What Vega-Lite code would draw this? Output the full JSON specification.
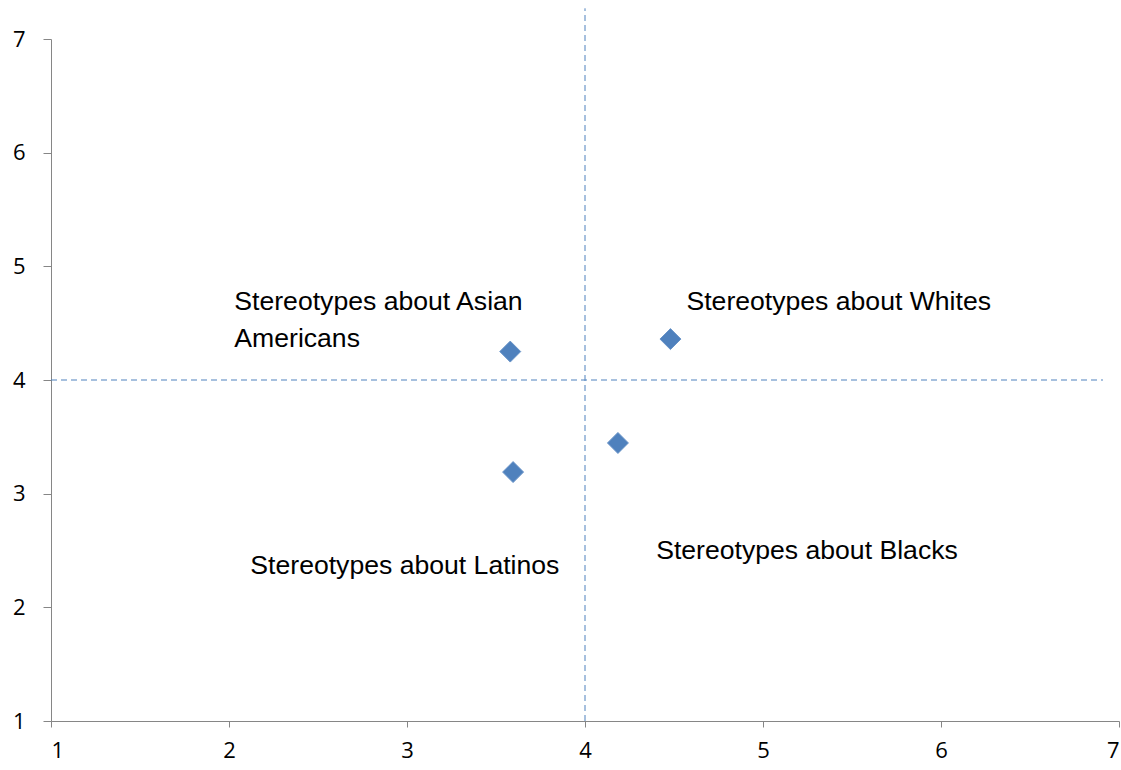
{
  "$schema": "https://vega.github.io/schema/vega-lite/v6.json",
  "width": 1068,
  "height": 682,
  "autosize": "none",
  "padding": {"left": 51, "top": 39, "right": 2, "bottom": 49},
  "background": "white",
  "config": {
    "view": {"stroke": null},
    "font": "Liberation Sans",
    "axis": {"grid": false, "domainColor": "#868686", "tickColor": "#868686", "labelColor": "#000000", "labelFontSize": 22, "labelFont": "Open Sans", "title": null}
  },
  "datasets": {
    "points": [
      {"group": "Asian Americans", "x": 3.58, "y": 4.25},
      {"group": "Whites", "x": 4.48, "y": 4.36},
      {"group": "Blacks", "x": 4.185, "y": 3.446},
      {"group": "Latinos", "x": 3.596, "y": 3.19}
    ],
    "labels": [
      {"text": ["Stereotypes about Asian", "Americans"], "x": 2.03, "y": 4.80},
      {"text": ["Stereotypes about Whites"], "x": 4.57, "y": 4.80},
      {"text": ["Stereotypes about Latinos"], "x": 2.12, "y": 2.475},
      {"text": ["Stereotypes about Blacks"], "x": 4.40, "y": 2.61}
    ],
    "vline": [{"x": 4, "y": 1, "y2": 7.27}],
    "hline": [{"y": 4, "x": 1, "x2": 6.91}]
  },
  "layer": [
    {
      "data": {"name": "vline"},
      "mark": {"type": "rule", "color": "#4F81BD", "strokeWidth": 1, "strokeDash": [6, 4], "clip": false},
      "encoding": {
        "x": {"field": "x", "type": "quantitative", "scale": {"domain": [1, 7], "nice": false}, "axis": {"values": [1, 2, 3, 4, 5, 6, 7], "tickSize": 6, "labelPadding": 13, "format": "d"}},
        "y": {"field": "y", "type": "quantitative", "scale": {"domain": [1, 7], "nice": false}, "axis": {"values": [1, 2, 3, 4, 5, 6, 7], "tickSize": 8, "labelPadding": 18, "format": "d"}},
        "y2": {"field": "y2"}
      }
    },
    {
      "data": {"name": "hline"},
      "mark": {"type": "rule", "color": "#4F81BD", "strokeWidth": 1, "strokeDash": [6, 4], "clip": false},
      "encoding": {
        "x": {"field": "x", "type": "quantitative"},
        "x2": {"field": "x2"},
        "y": {"field": "y", "type": "quantitative"}
      }
    },
    {
      "data": {"name": "points"},
      "mark": {"type": "point", "shape": "diamond", "filled": true, "size": 440, "color": "#4F81BD", "opacity": 1, "stroke": "#6a94c8", "strokeWidth": 1},
      "encoding": {
        "x": {"field": "x", "type": "quantitative"},
        "y": {"field": "y", "type": "quantitative"}
      }
    },
    {
      "data": {"name": "labels"},
      "mark": {"type": "text", "align": "left", "baseline": "top", "fontSize": 26.6, "font": "Liberation Sans", "color": "#000000", "lineHeight": 37},
      "encoding": {
        "x": {"field": "x", "type": "quantitative"},
        "y": {"field": "y", "type": "quantitative"},
        "text": {"field": "text"}
      }
    }
  ]
}
